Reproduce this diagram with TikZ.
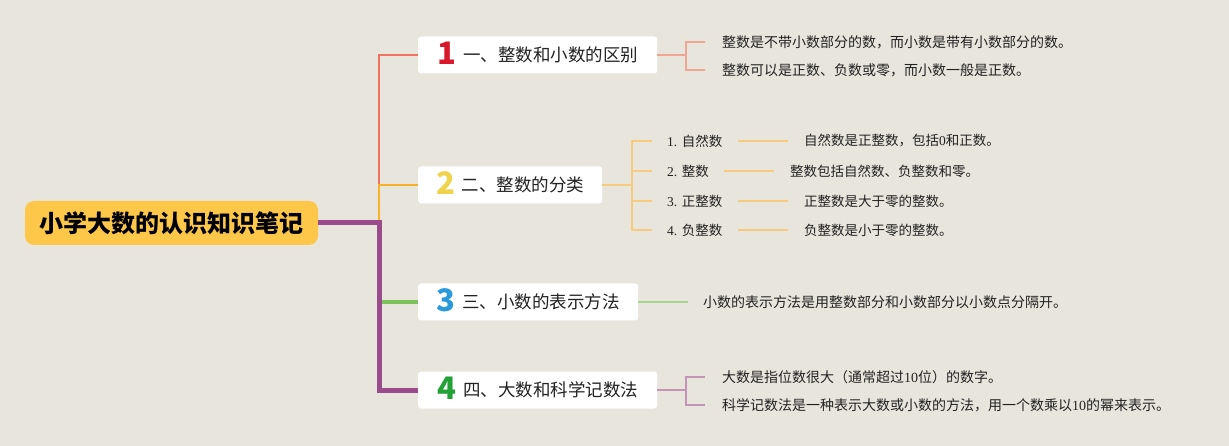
\documentclass[tikz,border=0pt]{standalone}
\usepackage{fontspec}
\setmainfont{Noto Sans CJK SC}
\newfontfamily\serifnum{Liberation Serif}
\usetikzlibrary{positioning}

\definecolor{bgcol}{HTML}{E8E5DC}
\definecolor{rootfill}{HTML}{FDC84A}
\definecolor{txtcol}{HTML}{222222}
\definecolor{br1}{HTML}{F07362}
\definecolor{br2}{HTML}{F8B22A}
\definecolor{br3}{HTML}{7CC35B}
\definecolor{br4}{HTML}{9A4B8B}
\definecolor{sub1}{HTML}{F0A595}
\definecolor{sub2}{HTML}{F6CB7E}
\definecolor{sub3}{HTML}{A9D393}
\definecolor{sub4}{HTML}{C393B8}
\definecolor{numred}{HTML}{D7192B}
\definecolor{numyellow}{HTML}{EFD34D}
\definecolor{numblue}{HTML}{2A9ADC}
\definecolor{numgreen}{HTML}{23A036}

\newcommand{\topicnum}[2]{\smash{\raisebox{-2.5pt}{\color{#1}\fontsize{31}{31}\selectfont\bfseries #2}}\hspace{7pt}}

\tikzset{
  rootbox/.style={fill=rootfill, rounded corners=9pt, minimum width=293pt, minimum height=44pt,
    inner sep=0pt, text=black, font=\fontsize{24}{28}\selectfont\bfseries},
  topicbox/.style={fill=white, rounded corners=3pt, minimum height=37pt, inner sep=0pt,
    anchor=west, text=txtcol, font=\fontsize{17.5}{20}\selectfont},
  leaf/.style={inner sep=0pt, anchor=west, text=txtcol, font=\fontsize{14}{17}\selectfont},
  smallleaf/.style={leaf, font=\fontsize{13.5}{16}\selectfont},
  subline/.style={line width=1.3pt}
}

\begin{document}
\begin{tikzpicture}[x=1pt,y=-1pt]
  \fill[bgcol] (0,0) rectangle (1229,446);
  \useasboundingbox (0,0) rectangle (1229,446);

  % root and main topics
  \node[rootbox] (root) at (171.5,223) {小学大数的认识知识笔记};
  \coordinate (hub) at (379,223);
  \node[topicbox, minimum width=239pt] (t1) at (418,55) {\topicnum{numred}{1}一、整数和小数的区别};
  \node[topicbox, minimum width=184pt] (t2) at (418,185) {\topicnum{numyellow}{2}二、整数的分类};
  \node[topicbox, minimum width=220pt] (t3) at (418,302) {\topicnum{numblue}{3}三、小数的表示方法};
  \node[topicbox, minimum width=239pt] (t4) at (418,390) {\topicnum{numgreen}{4}四、大数和科学记数法};

  \draw[br1, line width=1.8pt] (hub) |- (t1.west);
  \draw[br2, line width=1.8pt] (hub) |- (t2.west);
  \draw[br3, line width=4pt] (hub) |- (t3.west);
  \draw[br4, line width=5pt] (root.east) -- (hub) |- (t4.west);

  % topic 1
  \coordinate (b1) at (686,55);
  \node[leaf] (l11) at (722,42) {整数是不带小数部分的数，而小数是带有小数部分的数。};
  \node[leaf] (l12) at (722,70) {整数可以是正数、负数或零，而小数一般是正数。};
  \draw[sub1, subline] (t1.east) -- (b1);
  \draw[sub1, subline, shorten >=17pt] (b1) |- (l11.west);
  \draw[sub1, subline, shorten >=17pt] (b1) |- (l12.west);

  % topic 2
  \coordinate (b2) at (632,185);
  \node[smallleaf] (c1) at (667,141) {{\serifnum 1. }自然数};
  \node[smallleaf] (c2) at (667,171) {{\serifnum 2. }整数};
  \node[smallleaf] (c3) at (667,201) {{\serifnum 3. }正整数};
  \node[smallleaf] (c4) at (667,230) {{\serifnum 4. }负整数};
  \node[smallleaf] (g1) at (804,141) {自然数是正整数，包括{\serifnum 0}和正数。};
  \node[smallleaf] (g2) at (790,171) {整数包括自然数、负整数和零。};
  \node[smallleaf] (g3) at (804,201) {正整数是大于零的整数。};
  \node[smallleaf] (g4) at (804,230) {负整数是小于零的整数。};
  \draw[sub2, subline] (t2.east) -- (b2);
  \foreach \i in {1,...,4} {
    \draw[sub2, subline, shorten >=15pt] (b2) |- (c\i.west);
    \draw[sub2, subline, shorten <=15pt, shorten >=16pt] (c\i.east) -- (g\i.west);
  }

  % topic 3
  \node[leaf] (l31) at (703,302) {小数的表示方法是用整数部分和小数部分以小数点分隔开。};
  \draw[sub3, subline, shorten >=15pt] (t3.east) -- (l31.west);

  % topic 4
  \coordinate (b4) at (686,390);
  \node[leaf] (l41) at (722,377) {大数是指位数很大（通常超过{\serifnum 10}位）的数字。};
  \node[leaf] (l42) at (722,405) {科学记数法是一种表示大数或小数的方法，用一个数乘以{\serifnum 10}的幂来表示。};
  \draw[sub4, subline] (t4.east) -- (b4);
  \draw[sub4, subline, shorten >=17pt] (b4) |- (l41.west);
  \draw[sub4, subline, shorten >=17pt] (b4) |- (l42.west);
\end{tikzpicture}
\end{document}
